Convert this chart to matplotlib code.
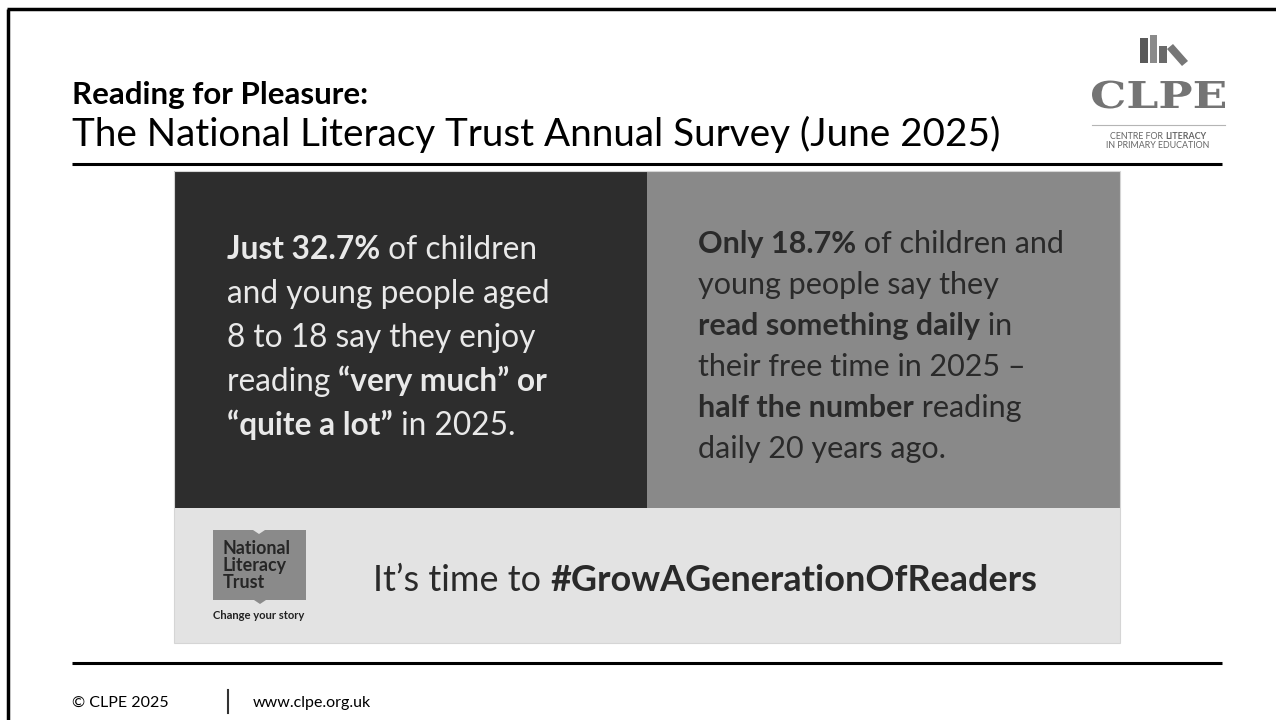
import matplotlib
matplotlib.use("Agg")
import matplotlib.pyplot as plt
from matplotlib.patches import Rectangle, Polygon, PathPatch
from matplotlib.textpath import TextPath
from matplotlib.font_manager import FontProperties
from matplotlib.transforms import Affine2D

W, H = 1276, 720

# slide text
TITLE = "Reading for Pleasure:"
SUBTITLE = "The National Literacy Trust Annual Survey (June 2025)"

# each line is a list of (text, bold) segments
LEFT_LINES = [
    [("Just 32.7%", True), (" of children", False)],
    [("and young people aged", False)],
    [("8 to 18 say they enjoy", False)],
    [("reading ", False), ("\u201cvery much\u201d or", True)],
    [("\u201cquite a lot\u201d", True), (" in 2025.", False)],
]
RIGHT_LINES = [
    [("Only 18.7%", True), (" of children and", False)],
    [("young people say they", False)],
    [("read something daily", True), (" in", False)],
    [("their free time in 2025 \u2013", False)],
    [("half the number", True), (" reading", False)],
    [("daily 20 years ago.", False)],
]
BANNER = [("It\u2019s time to ", False), ("#GrowAGenerationOfReaders", True)]

NLT_WORDS = ["National", "Literacy", "Trust"]
NLT_TAG = "Change your story"

CLPE_NAME = "CLPE"
CLPE_TAG = [
    [("CENTRE FOR ", False), ("LITERACY", True)],
    [("IN PRIMARY EDUCATION", False)],
]

FOOTER_LEFT = "\u00a9 CLPE 2025"
FOOTER_RIGHT = "www.clpe.org.uk"

FONT = "Lato"

fig = plt.figure(figsize=(W / 100, H / 100), dpi=100)
ax = fig.add_axes([0, 0, 1, 1])
ax.set_xlim(0, W)
ax.set_ylim(H, 0)
ax.axis("off")
renderer = fig.canvas.get_renderer()


def width_of(s, size, bold=False, family=FONT):
    # measure with a trailing bar so spaces are counted
    t = ax.text(0, 0, s + "|", fontsize=size,
                fontweight="bold" if bold else "normal", family=family)
    w1 = t.get_window_extent(renderer).width
    t.set_text("|")
    w2 = t.get_window_extent(renderer).width
    t.remove()
    return w1 - w2


def line_width(segs, size, family=FONT):
    return sum(width_of(s, size, b, family) for s, b in segs)


def fit_size(segs, target, family=FONT):
    return 20 * target / line_width(segs, 20, family)


def draw_line(x, y, segs, size, color, family=FONT, ha="left"):
    if ha == "center":
        x -= line_width(segs, size, family) / 2
    for s, b in segs:
        ax.text(x, y, s, fontsize=size, fontweight="bold" if b else "normal",
                family=family, color=color, va="baseline", ha="left")
        x += width_of(s, size, b, family)


# slide frame
ax.plot([7, W], [9, 9], color="black", lw=2.5, solid_capstyle="butt")
ax.plot([8, 8], [9, H], color="black", lw=2.5, solid_capstyle="butt")

# header
size = fit_size([(TITLE, True)], 296)
draw_line(72, 104, [(TITLE, True)], size, "black")
size = fit_size([(SUBTITLE, False)], 931)
draw_line(72, 146, [(SUBTITLE, False)], size, "black")
ax.plot([72, 1222], [164, 164], color="black", lw=2.2, solid_capstyle="butt")

# CLPE logo
ax.add_patch(Rectangle((1140, 38), 8, 25, color="#5a5a5a", lw=0))
ax.add_patch(Rectangle((1150, 35), 7, 28, color="#8a8a8a", lw=0))
ax.add_patch(Rectangle((1159, 46), 8, 17, color="#6a6a6a", lw=0))
ax.add_patch(Polygon([(1167, 49), (1173, 44), (1188, 61), (1182, 66)],
                     closed=True, color="#777777", lw=0))
# logo word stretched into its box
tp = TextPath((0, 0), CLPE_NAME, size=100,
              prop=FontProperties(family="DejaVu Serif", weight="bold"))
ext = tp.get_extents()
sx = 133 / ext.width
sy = 28 / ext.height
tr = Affine2D().translate(-ext.x0, 0).scale(sx, -sy).translate(1092, 108)
ax.add_patch(PathPatch(tr.transform_path(tp), color="#747474", lw=0))
ax.plot([1092, 1225], [125, 125], color="#b5b5b5", lw=0.8)
size = fit_size(CLPE_TAG[1], 104)
draw_line(1158, 139, CLPE_TAG[0], size, "#666666", ha="center")
draw_line(1158, 148, CLPE_TAG[1], size, "#666666", ha="center")

# infographic panels
ax.add_patch(Rectangle((174, 171), 473, 337, color="#2d2d2d", lw=0))
ax.add_patch(Rectangle((647, 171), 473, 337, color="#898989", lw=0))
ax.add_patch(Rectangle((174, 508), 946, 135, color="#e3e3e3", lw=0))
ax.add_patch(Rectangle((174, 171), 946, 472, fill=False, ec="#d5d5d5", lw=0.8))

size = fit_size(LEFT_LINES[0], 311)
for i, segs in enumerate(LEFT_LINES):
    draw_line(227, 259 + i * 44, segs, size, "#e9e9e9")

size = fit_size(RIGHT_LINES[0], 368)
for i, segs in enumerate(RIGHT_LINES):
    draw_line(698, 253 + i * 41, segs, size, "#2a2a2a")

size = fit_size(BANNER, 663)
draw_line(373, 591, BANNER, size, "#2a2a2a")

# National Literacy Trust logo
ax.add_patch(Polygon([(213, 530), (253, 530), (259, 534), (265, 530), (306, 530),
                      (306, 600), (266, 600), (260, 604), (254, 600), (213, 600)],
                     closed=True, color="#8a8a8a", lw=0))
size = fit_size([(NLT_WORDS[0], True)], 68)
for i, word in enumerate(NLT_WORDS):
    draw_line(223, 554 + i * 17, [(word, True)], size, "#262626")
size = fit_size([(NLT_TAG, True)], 92)
draw_line(259, 619, [(NLT_TAG, True)], size, "#222222", ha="center")

# footer
ax.plot([72, 1222], [663, 663], color="black", lw=2.2, solid_capstyle="butt")
size = fit_size([(FOOTER_LEFT, False)], 96)
draw_line(72, 707, [(FOOTER_LEFT, False)], size, "black")
ax.plot([228, 228], [690, 713], color="#333333", lw=1.5)
draw_line(253, 707, [(FOOTER_RIGHT, False)], size, "black")

fig.savefig("out.png", dpi=100)
